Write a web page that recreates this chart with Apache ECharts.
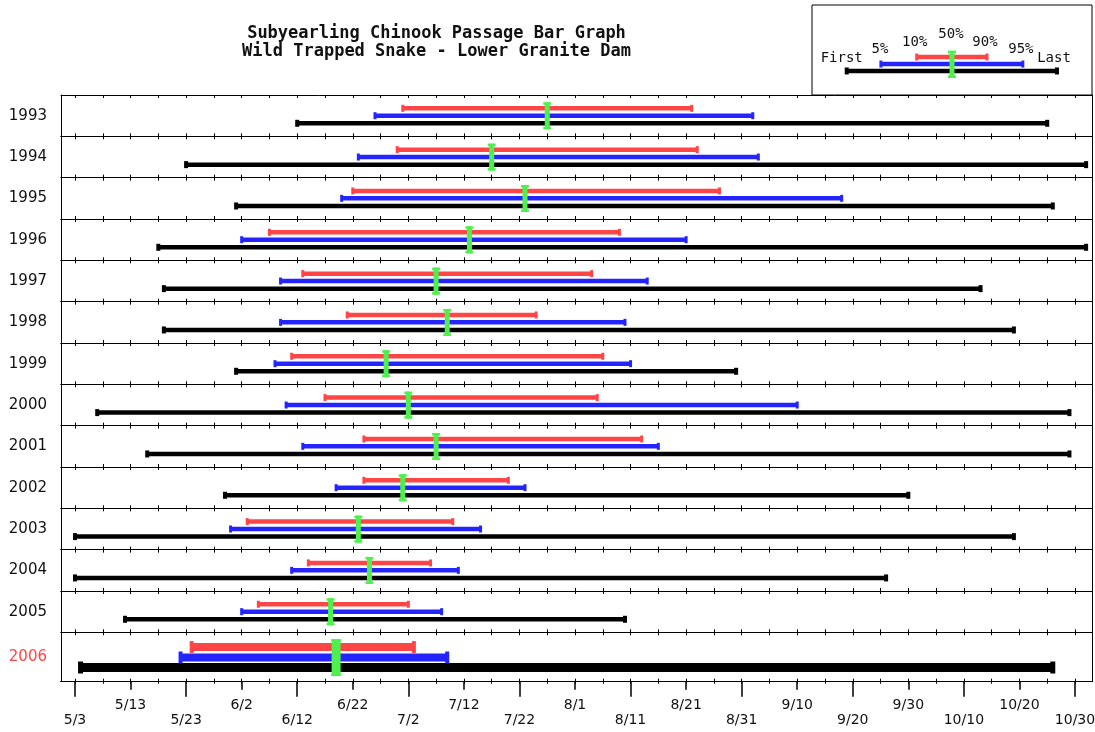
<!DOCTYPE html>
<html><head><meta charset="utf-8">
<script src="https://cdn.jsdelivr.net/npm/echarts@6/dist/echarts.min.js"></script>
<style>html,body{margin:0;padding:0;background:#fff}#c{width:1095px;height:732px}</style>
</head><body><div id="c"></div><script>
// ---------------- data ----------------
const titleLines = ['Subyearling Chinook Passage Bar Graph', 'Wild Trapped Snake - Lower Granite Dam'];
const years = ['1993','1994','1995','1996','1997','1998','1999','2000','2001','2002','2003','2004','2005','2006'];
const currentYear = '2006';
const firstDate = ['6/12','5/23','6/1','5/18','5/19','5/19','6/1','5/7','5/16','5/30','5/3','5/3','5/12','5/4'];
const pct5Date  = ['6/26','6/23','6/20','6/2','6/9','6/9','6/8','6/10','6/13','6/19','5/31','6/11','6/2','5/22'];
const pct10Date = ['7/1','6/30','6/22','6/7','6/13','6/21','6/11','6/17','6/24','6/24','6/3','6/14','6/5','5/24'];
const pct50Date = ['7/27','7/17','7/23','7/13','7/7','7/9','6/28','7/2','7/7','7/1','6/23','6/25','6/18','6/19'];
const pct90Date = ['8/22','8/23','8/27','8/9','8/4','7/25','8/6','8/5','8/13','7/20','7/10','7/6','7/2','7/3'];
const pct95Date = ['9/2','9/3','9/18','8/21','8/14','8/10','8/11','9/10','8/16','7/23','7/15','7/11','7/8','7/9'];
const lastDate  = ['10/25','11/1','10/26','11/1','10/13','10/19','8/30','10/29','10/29','9/30','10/19','9/26','8/10','10/26'];
const tickLabelsLow  = ['5/3','5/23','6/12','7/2','7/22','8/11','8/31','9/20','10/10','10/30'];
const tickLabelsHigh = ['5/13','6/2','6/22','7/12','8/1','8/21','9/10','9/30','10/20'];
const legendLabels = ['First','5%','10%','50%','90%','95%','Last'];
const legendSample = [12.4, 24.6, 37.4, 50, 62.5, 75.3, 87.5];

// ---------------- helpers ----------------
const BASE = Date.UTC(2001, 4, 3);
function dayOf(s) { const [m, d] = s.split('/').map(Number); return Math.round((Date.UTC(2001, m - 1, d) - BASE) / 86400000); }
function dayToStr(v) { const dt = new Date(BASE + Math.round(v) * 86400000); return (dt.getUTCMonth() + 1) + '/' + dt.getUTCDate(); }

const lowDays = tickLabelsLow.map(dayOf);
const highDays = tickLabelsHigh.map(dayOf);
const minorDays = [];
for (let d = lowDays[0]; d <= lowDays[lowDays.length - 1]; d += 5) minorDays.push(d);

// ---------------- layout ----------------
const PLOT_LEFT = 61, PLOT_RIGHT = 1092, PLOT_TOP = 95, ROW_H = 41.33, CUR_ROW_H = 49.4;
const X_MIN = -2.52, X_MAX = 183.06;
const FONT = 'DejaVu Sans';
const C_RED = '#ff4545', C_BLUE = '#2424ff', C_BLACK = '#000', C_GREEN = '#4df04d';
const LAY_REG = { red: 0.678, blue: 0.499, black: 0.315, gTop: 0.823, gBot: 0.17, t: 4.5, tb: 4.5, capW: 3, capH: 7, gW: 5, gCapW: 8, gCapH: 2.5 };
const LAY_CUR = { red: 0.70, blue: 0.49, black: 0.287, gTop: 0.86, gBot: 0.115, t: 8, tb: 9, capW: 4, capH: 12, gW: 9, gCapW: 10, gCapH: 2 };
const LAY_LEG = { red: 0.422, blue: 0.344, black: 0.267, gTop: 0.492, gBot: 0.189, t: 4.5, tb: 4.5, capW: 3, capH: 7, gW: 5, gCapW: 8, gCapH: 2.5 };
const LEG_LABEL_Y = [0.41, 0.51, 0.585, 0.672, 0.585, 0.51, 0.41];
const LEG_LABEL_DX = [-5, -1, -2, -1, -2, -2, -3];

const grids = [], xAxes = [], yAxes = [], series = [];
const axisLineStyle = { color: '#000', width: 1 };

function barShapes(api, x1, x2, yv, t, capW, capH, color) {
  const p1 = api.coord([x1, yv]), p2 = api.coord([x2, yv]);
  return [
    { type: 'rect', shape: { x: p1[0], y: p1[1] - t / 2, width: p2[0] - p1[0], height: t }, style: { fill: color } },
    { type: 'rect', shape: { x: p1[0] - capW / 2, y: p1[1] - capH / 2, width: capW, height: capH }, style: { fill: color } },
    { type: 'rect', shape: { x: p2[0] - capW / 2, y: p2[1] - capH / 2, width: capW, height: capH }, style: { fill: color } }
  ];
}
function makeRender(L) {
  return function (params, api) {
    const p50 = api.value(0), f = api.value(2), p5 = api.value(3), p10 = api.value(4), p90 = api.value(5), p95 = api.value(6), l = api.value(7);
    const kids = [].concat(
      barShapes(api, f, l, L.black, L.tb, L.capW + 1, L.capH, C_BLACK),
      barShapes(api, p5, p95, L.blue, L.t, L.capW, L.capH, C_BLUE),
      barShapes(api, p10, p90, L.red, L.t, L.capW, L.capH, C_RED)
    );
    const gt = api.coord([p50, L.gTop]), gb = api.coord([p50, L.gBot]);
    kids.push({ type: 'rect', shape: { x: gt[0] - L.gW / 2, y: gt[1], width: L.gW, height: gb[1] - gt[1] }, style: { fill: C_GREEN } });
    kids.push({ type: 'rect', shape: { x: gt[0] - L.gCapW / 2, y: gt[1], width: L.gCapW, height: L.gCapH }, style: { fill: C_GREEN } });
    kids.push({ type: 'rect', shape: { x: gb[0] - L.gCapW / 2, y: gb[1] - L.gCapH, width: L.gCapW, height: L.gCapH }, style: { fill: C_GREEN } });
    return { type: 'group', children: kids };
  };
}
function tickAxis(gi, position, inside, len, values, extra) {
  return Object.assign({
    type: 'value', gridIndex: gi, position: position, min: X_MIN, max: X_MAX,
    axisLine: { show: true, onZero: false, lineStyle: axisLineStyle },
    axisTick: { show: true, inside: inside, length: len, customValues: values, lineStyle: { color: '#000', width: 1 } },
    axisLabel: { show: false }, splitLine: { show: false }
  }, extra || {});
}

years.forEach((yr, i) => {
  const cur = yr === currentYear;
  const top = PLOT_TOP + ROW_H * i;
  const h = cur ? CUR_ROW_H : ROW_H;
  grids.push({ left: PLOT_LEFT, width: PLOT_RIGHT - PLOT_LEFT, top: top, height: h, containLabel: false, outerBoundsMode: 'none' });
  xAxes.push(tickAxis(i, 'top', true, 3, minorDays));
  xAxes.push(tickAxis(i, 'bottom', true, 3, minorDays));
  yAxes.push({ type: 'category', gridIndex: i, position: 'left', data: [yr],
    axisLine: { show: true, onZero: false, lineStyle: axisLineStyle }, axisTick: { show: false },
    axisLabel: { margin: 14, fontSize: 15, fontFamily: FONT, color: cur ? '#ff4545' : '#111', padding: [6, 0, 0, 0] } });
  yAxes.push({ type: 'value', gridIndex: i, position: 'right', min: 0, max: 1,
    axisLine: { show: true, onZero: false, lineStyle: axisLineStyle }, axisTick: { show: false },
    axisLabel: { show: false }, splitLine: { show: false } });
  series.push({
    type: 'custom', name: yr, xAxisIndex: 2 * i + 1, yAxisIndex: 2 * i + 1, clip: false,
    renderItem: makeRender(cur ? LAY_CUR : LAY_REG),
    encode: { x: 0, y: 1 },
    data: [[dayOf(pct50Date[i]), 0.5, dayOf(firstDate[i]), dayOf(pct5Date[i]), dayOf(pct10Date[i]),
            dayOf(pct90Date[i]), dayOf(pct95Date[i]), dayOf(lastDate[i])]]
  });
});
const lastGrid = years.length - 1;
// bottom axis: minor ticks crossing, and two staggered labelled tick sets
xAxes.push(tickAxis(lastGrid, 'bottom', false, 2, minorDays));
xAxes.push(tickAxis(lastGrid, 'bottom', false, 15, lowDays, {
  axisTick: { show: true, length: 15, customValues: lowDays, lineStyle: { color: '#000', width: 1.5 } },
  axisLabel: { show: true, customValues: lowDays, margin: 32, fontSize: 14, fontFamily: FONT, color: '#111', formatter: dayToStr }
}));
xAxes.push(tickAxis(lastGrid, 'bottom', false, 8, highDays, {
  axisTick: { show: true, length: 8, customValues: highDays, lineStyle: { color: '#000', width: 1.5 } },
  axisLabel: { show: true, customValues: highDays, margin: 17, fontSize: 14, fontFamily: FONT, color: '#111', formatter: dayToStr }
}));

// legend box
const legGrid = grids.length;
grids.push({ left: 812, top: 5, width: 280, height: 90, show: true, borderColor: '#000', borderWidth: 1, backgroundColor: '#fff', outerBoundsMode: 'none' });
const legX = xAxes.length, legY = yAxes.length;
xAxes.push({ type: 'value', gridIndex: legGrid, min: 0, max: 100, show: false });
yAxes.push({ type: 'value', gridIndex: legGrid, min: 0, max: 1, show: false });
series.push({
  type: 'custom', name: 'legend', xAxisIndex: legX, yAxisIndex: legY, clip: false,
  encode: { x: 0, y: 1 },
  data: [[legendSample[3], 0.5, legendSample[0], legendSample[1], legendSample[2], legendSample[4], legendSample[5], legendSample[6]]],
  renderItem: function (params, api) {
    const g = makeRender(LAY_LEG)(params, api);
    legendLabels.forEach((lab, k) => {
      const p = api.coord([legendSample[k], LEG_LABEL_Y[k]]);
      g.children.push({ type: 'text', x: p[0] + LEG_LABEL_DX[k], y: p[1],
        style: { text: lab, align: 'center', verticalAlign: 'middle', font: '14px "DejaVu Sans Mono"', fill: '#111' } });
    });
    return g;
  }
});

const chart = echarts.init(document.getElementById('c'), null, { renderer: 'canvas' });
chart.setOption({
  animation: false,
  backgroundColor: '#fff',
  graphic: titleLines.map((t, k) => ({
    type: 'text', x: 436.5, y: 34 + 18 * k,
    style: { text: t, align: 'center', verticalAlign: 'middle', font: 'bold 17px "DejaVu Sans Mono"', fill: '#111' }
  })),
  grid: grids, xAxis: xAxes, yAxis: yAxes, series: series
});
</script></body></html>
